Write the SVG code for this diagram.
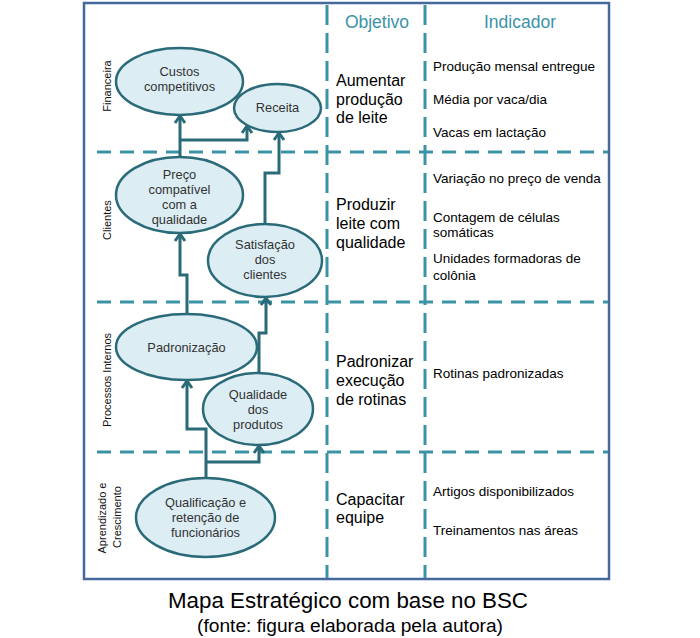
<svg xmlns="http://www.w3.org/2000/svg" width="700" height="638" viewBox="0 0 700 638">
<style>
.grid{stroke:#3b93a6;stroke-width:3;fill:none}
.gv{stroke-dasharray:20 8}
.gh{stroke-dasharray:14 9}
.node ellipse{fill:#dcedf3;stroke:#2b6b79;stroke-width:2.5}
.nt{font-family:"Liberation Sans",Arial,sans-serif;font-size:12.8px;fill:#333;text-anchor:middle}
.side{font-family:"Liberation Sans",Arial,sans-serif;font-size:11px;fill:#111;text-anchor:middle}
.hdr{font-family:"Liberation Sans",Arial,sans-serif;font-size:17.5px;fill:#3a93a8;text-anchor:middle}
.obj{font-family:"Liberation Sans",Arial,sans-serif;font-size:16px;fill:#000}
.ind{font-family:"Liberation Sans",Arial,sans-serif;font-size:13.5px;fill:#000}
.conn path{fill:none;stroke:#2b6b79;stroke-width:3;marker-end:url(#arr)}
.cap{font-family:"Liberation Sans",Arial,sans-serif;fill:#000;text-anchor:middle}
</style>
<defs>
<marker id="arr" viewBox="-10 -7 12 14" markerWidth="12" markerHeight="14" refX="0" refY="0" orient="auto" markerUnits="userSpaceOnUse">
<path d="M-7,-5 L0,0 L-7,5" fill="none" stroke="#2b6b79" stroke-width="3"/>
</marker>
</defs>
<rect x="0" y="0" width="700" height="638" fill="#fff"/>
<rect x="84" y="3" width="525" height="576" fill="#fff" stroke="#44699a" stroke-width="2.5"/>
<g id="grid">
<line class="grid gv" x1="327" y1="5" x2="327" y2="578"/>
<line class="grid gv" x1="425" y1="5" x2="425" y2="578"/>
<line class="grid gh" x1="97" y1="152" x2="608" y2="152"/>
<line class="grid gh" x1="97" y1="302" x2="608" y2="302"/>
<line class="grid gh" x1="97" y1="452" x2="608" y2="452"/>
</g>
<g id="perspectives">
<text class="side" transform="translate(111,86) rotate(-90)">Financeira</text>
<text class="side" transform="translate(111,220) rotate(-90)">Clientes</text>
<text class="side" transform="translate(111,380) rotate(-90)">Processos Internos</text>
<text class="side" transform="translate(106,518) rotate(-90)">Aprendizado e</text>
<text class="side" transform="translate(121,517) rotate(-90)">Crescimento</text>
</g>
<g id="headers">
<text class="hdr" x="377" y="28">Objetivo</text>
<text class="hdr" x="520" y="28">Indicador</text>
</g>
<g id="n-custos" class="node"><ellipse cx="179.5" cy="81.5" rx="63.5" ry="33.5"/>
<text class="nt" x="179.5" y="76">Custos</text><text class="nt" x="179.5" y="91">competitivos</text></g>
<g id="n-receita" class="node"><ellipse cx="277.5" cy="108" rx="43.5" ry="24"/>
<text class="nt" x="277.5" y="112">Receita</text></g>
<g id="n-preco" class="node"><ellipse cx="179.5" cy="195" rx="63.5" ry="38"/>
<text class="nt" x="179.5" y="179">Preço</text><text class="nt" x="179.5" y="194">compatível</text><text class="nt" x="179.5" y="209">com a</text><text class="nt" x="179.5" y="224">qualidade</text></g>
<g id="n-satisfacao" class="node"><ellipse cx="265" cy="260.5" rx="57" ry="36.5"/>
<text class="nt" x="265" y="249">Satisfação</text><text class="nt" x="265" y="264">dos</text><text class="nt" x="265" y="279">clientes</text></g>
<g id="n-padronizacao" class="node"><ellipse cx="186.5" cy="347" rx="70.5" ry="33"/>
<text class="nt" x="186.5" y="352">Padronização</text></g>
<g id="n-qualidade" class="node"><ellipse cx="258" cy="409" rx="55" ry="36"/>
<text class="nt" x="258" y="399">Qualidade</text><text class="nt" x="258" y="414">dos</text><text class="nt" x="258" y="429">produtos</text></g>
<g id="n-qualificacao" class="node"><ellipse cx="205.5" cy="517.5" rx="69.5" ry="39.5"/>
<text class="nt" x="205.5" y="507">Qualificação e</text><text class="nt" x="205.5" y="522">retenção de</text><text class="nt" x="205.5" y="537">funcionários</text></g>
<g id="connectors" class="conn">
<path d="M180,157 V116"/>
<path d="M180,140 H247 V126"/>
<path d="M265,224 V173 H279 V133"/>
<path d="M187,314 V275 H180 V234"/>
<path d="M259,373 V333 H266 V298"/>
<path d="M206,478 V429 H187 V381"/>
<path d="M206,462 H259 V446"/>
</g>
<g id="objectives">
<text class="obj" x="336" y="86">Aumentar</text><text class="obj" x="336" y="105">produção</text><text class="obj" x="336" y="123">de leite</text>
<text class="obj" x="336" y="210">Produzir</text><text class="obj" x="336" y="229">leite com</text><text class="obj" x="336" y="248">qualidade</text>
<text class="obj" x="336" y="367">Padronizar</text><text class="obj" x="336" y="386">execução</text><text class="obj" x="336" y="405">de rotinas</text>
<text class="obj" x="336" y="505">Capacitar</text><text class="obj" x="336" y="523">equipe</text>
</g>
<g id="indicators">
<text class="ind" x="433" y="71">Produção mensal entregue</text>
<text class="ind" x="433" y="104">Média por vaca/dia</text>
<text class="ind" x="433" y="137">Vacas em lactação</text>
<text class="ind" x="433" y="183">Variação no preço de venda</text>
<text class="ind" x="433" y="222">Contagem de células</text>
<text class="ind" x="433" y="237">somáticas</text>
<text class="ind" x="433" y="263">Unidades formadoras de</text>
<text class="ind" x="433" y="280">colônia</text>
<text class="ind" x="433" y="378">Rotinas padronizadas</text>
<text class="ind" x="433" y="496">Artigos disponibilizados</text>
<text class="ind" x="433" y="535">Treinamentos nas áreas</text>
</g>
<g id="caption">
<text class="cap" x="348" y="608" font-size="22" textLength="360" lengthAdjust="spacingAndGlyphs">Mapa Estratégico com base no BSC</text>
<text class="cap" x="350" y="632" font-size="17.5" textLength="306" lengthAdjust="spacingAndGlyphs">(fonte: figura elaborada pela autora)</text>
</g>
</svg>
